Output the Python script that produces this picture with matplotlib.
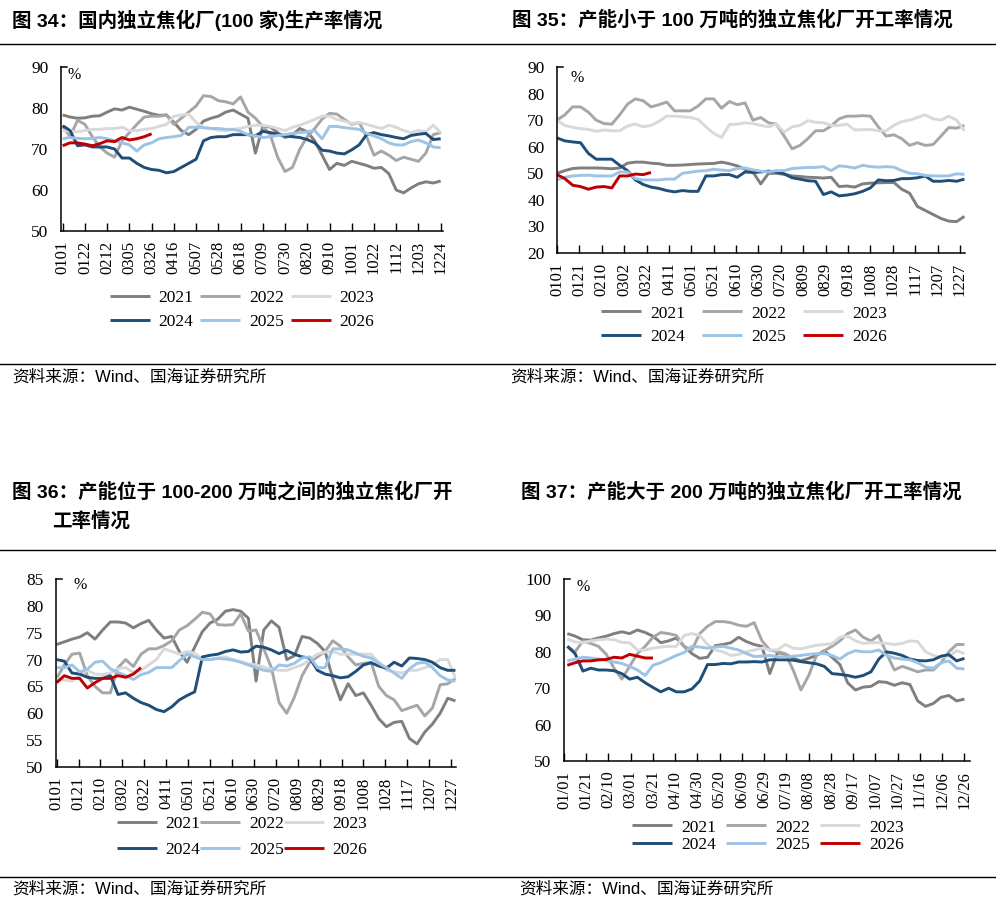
import numpy as np
import matplotlib
matplotlib.use('Agg')
import matplotlib.pyplot as plt
from matplotlib.lines import Line2D

#-------------------------------------------------------------------------------
# data (weekly readings, % )
#-------------------------------------------------------------------------------
years = ['2021', '2022', '2023', '2024', '2025', '2026']
colors = ['#7f7f7f', '#a6a6a6', '#d9d9d9', '#1f4e79', '#9dc3e6', '#c00000']

# fig 34 - all 100 plants
p1_2021 = [78.3,77.8,77.5,77.6,78.0,78.1,79.0,79.8,79.5,80.2,79.7,79.2,78.6,78.2,78.3,76.5,74.5,73.5,74.8,76.8,
           77.5,78.0,79.0,79.5,78.5,77.5,69.0,75.5,75.4,74.0,72.8,73.5,75.0,74.2,72.0,68.5,65.0,66.5,66.0,67.0,
           66.5,66.0,65.3,65.5,64.0,60.0,59.3,60.5,61.5,62.0,61.7,62.2]
p1_2022 = [75.5,73.0,77.0,76.0,73.0,70.5,69.0,68.0,72.0,74.0,76.0,77.8,78.0,78.0,78.3,76.0,77.5,79.0,80.5,83.0,
           82.8,81.8,81.5,81.0,82.7,79.0,77.5,75.5,73.5,68.0,64.5,65.5,70.0,73.0,75.0,77.3,78.7,78.5,77.2,76.0,
           76.5,73.0,68.5,69.5,68.5,67.2,68.0,67.5,67.0,69.0,73.5,74.0]
p1_2023 = [74.5,74.3,74.2,74.5,74.8,74.8,75.0,75.0,75.3,74.5,74.5,74.8,75.0,75.5,76.0,78.0,78.3,78.5,76.5,75.3,
           75.0,74.6,74.5,74.8,75.0,75.5,75.8,75.8,75.5,75.0,74.5,75.3,75.8,76.5,77.2,78.0,78.0,77.2,76.8,76.2,
           76.5,76.0,75.5,75.0,75.8,75.3,74.5,74.0,74.5,74.2,75.8,74.0]
p1_2024 = [75.7,74.5,70.8,71.0,70.5,70.5,70.5,70.0,67.8,67.8,66.5,65.5,65.0,64.8,64.2,64.5,65.5,66.5,67.5,72.0,
           72.8,73.0,73.0,73.5,73.5,73.5,73.2,74.3,74.0,73.6,73.2,73.0,72.8,72.3,71.5,69.7,69.5,69.0,68.8,69.8,
           71.0,73.5,74.0,73.5,73.2,72.8,72.5,73.3,73.6,73.8,72.3,72.5]
p1_2025 = [72.5,72.8,72.6,72.5,72.6,72.8,72.5,72.0,71.5,71.0,69.5,71.0,71.5,72.5,72.8,73.0,73.3,75.3,75.3,75.2,
           75.0,75.0,74.8,74.8,74.3,73.5,73.2,72.8,73.0,73.3,73.5,73.8,74.0,74.2,74.5,72.5,75.5,75.5,75.2,75.0,
           74.8,73.8,73.2,72.5,71.5,71.0,71.0,71.8,72.2,71.5,70.5,70.3]
p1_2026 = [70.8,71.5,71.5,71.2,70.8,71.3,72.0,71.8,72.8,72.2,72.5,73.0,73.7]

# fig 35 - capacity < 100 wt
p2_2021 = [50.0,51.0,51.8,52.0,52.0,52.0,51.9,51.7,52.0,53.8,54.2,54.2,53.8,53.6,53.0,53.0,53.1,53.3,53.5,53.6,
           53.7,54.2,53.6,52.8,51.5,50.5,46.0,50.0,50.0,49.6,49.0,48.8,48.5,48.4,48.2,48.5,45.0,45.2,44.8,46.0,
           46.3,46.4,46.5,46.5,44.0,42.5,37.5,36.0,34.5,33.0,32.0,31.8,33.8]
p2_2022 = [70.0,72.0,75.0,75.0,73.0,70.0,68.7,68.5,72.0,76.0,78.0,77.3,75.0,75.8,76.8,73.5,73.5,73.5,75.3,78.0,
           78.0,74.5,77.0,75.8,76.5,70.0,71.0,69.0,68.5,64.0,59.2,60.5,63.0,66.0,66.0,67.8,70.5,71.5,71.5,71.7,
           71.5,67.5,64.0,64.5,63.0,60.5,61.5,60.5,60.8,64.0,67.2,67.0,68.0]
p2_2023 = [70.0,68.0,67.3,66.8,66.5,65.8,66.3,66.0,66.0,67.8,68.5,67.5,68.0,69.5,71.5,71.5,71.3,71.0,70.3,67.5,
           65.0,63.5,68.3,68.5,69.0,68.7,68.0,67.5,68.5,65.5,67.5,68.0,69.8,69.2,69.0,68.0,68.0,68.5,66.3,66.4,
           66.5,66.0,66.0,68.0,69.5,70.0,71.0,72.0,70.5,70.0,71.5,70.0,66.0]
p2_2024 = [63.3,62.2,61.8,61.5,57.5,55.3,55.3,55.3,53.0,51.0,47.5,45.8,44.8,44.3,43.5,43.0,43.5,43.2,43.2,49.0,
           49.0,49.5,49.5,48.5,50.5,50.3,50.5,50.8,50.5,49.8,48.3,47.8,47.2,47.0,42.0,43.0,41.5,41.8,42.3,43.2,
           44.5,47.5,47.2,47.3,48.0,48.0,48.3,49.0,47.0,47.0,47.3,47.0,47.8]
p2_2025 = [47.5,48.5,49.0,49.2,49.3,49.0,49.0,49.0,50.5,50.5,48.0,47.5,47.5,47.5,47.8,47.8,50.0,50.4,50.8,51.0,
           51.5,51.2,51.0,51.8,52.0,51.3,50.8,50.5,51.0,51.0,51.8,52.0,52.2,52.2,52.5,51.0,52.8,52.5,52.0,53.0,
           52.5,52.3,52.5,52.3,51.0,50.0,49.8,49.2,49.0,49.0,49.0,49.8,49.6]
p2_2026 = [49.5,48.0,45.5,45.0,44.0,44.8,45.0,44.5,49.0,49.0,49.7,49.5,50.3]

# fig 36 - capacity 100-200 wt
p3_2021 = [72.8,73.3,73.8,74.2,75.0,73.8,75.5,77.0,77.0,76.8,75.9,76.7,77.3,75.5,74.0,74.3,71.5,69.5,72.3,75.2,
           76.8,77.5,79.0,79.3,79.0,77.7,66.0,75.5,77.2,76.0,70.0,70.7,74.3,74.0,73.0,71.5,66.5,62.5,65.5,63.3,
           63.8,61.5,59.0,57.5,58.3,58.5,55.3,54.3,56.5,58.0,60.0,62.8,62.3]
p3_2022 = [66.5,69.0,71.0,71.2,67.0,65.0,63.8,63.8,68.5,70.0,68.7,71.0,72.0,72.0,72.6,73.5,75.5,76.3,77.5,78.8,
           78.5,76.5,76.4,76.5,78.5,75.3,75.5,72.0,68.5,62.0,60.0,63.0,67.0,69.5,70.5,71.5,73.5,72.5,70.5,69.0,
           69.3,69.5,65.0,63.3,62.5,60.5,61.0,61.5,59.5,61.0,65.3,65.5,66.5]
p3_2023 = [66.5,66.2,66.0,67.0,68.0,67.3,67.2,67.5,68.3,68.5,67.6,68.0,69.0,70.0,72.0,71.5,71.0,71.5,71.2,70.0,
           70.0,70.3,70.5,70.0,69.6,69.2,69.0,68.6,68.2,68.0,68.0,68.5,69.0,70.0,71.0,71.4,71.5,71.0,71.0,71.0,
           71.0,71.0,69.5,68.0,67.7,67.5,68.0,68.0,68.5,69.0,70.0,70.0,66.5]
p3_2024 = [70.0,69.7,67.5,67.3,66.7,66.5,66.5,67.0,63.5,63.8,62.8,62.0,61.5,60.7,60.3,61.2,62.5,63.3,64.0,70.5,
           70.8,71.0,71.5,71.8,71.4,71.5,72.5,72.3,71.8,71.1,71.7,71.0,70.5,70.3,68.0,67.3,67.0,66.6,66.8,67.8,
           69.0,69.4,68.8,68.4,69.5,68.8,70.3,70.2,70.0,69.5,68.5,68.0,68.0]
p3_2025 = [68.5,68.5,69.0,67.7,68.2,69.5,69.7,68.3,67.6,67.0,66.3,67.2,67.6,68.5,68.5,68.5,69.8,71.0,70.5,70.0,
           70.0,70.2,70.1,69.9,69.5,69.0,68.5,68.0,67.8,69.0,68.8,69.3,70.3,70.5,68.5,68.5,72.0,72.0,71.8,71.2,
           70.6,70.3,69.3,68.5,67.5,66.5,68.3,69.3,69.5,68.5,67.0,66.2,66.0]
p3_2026 = [65.7,67.0,66.5,66.5,64.7,65.7,66.5,66.5,67.0,66.7,67.3,68.5]

# fig 37 - capacity > 200 wt
p4_2021 = [85.0,84.3,83.3,83.2,83.8,84.3,85.0,85.5,85.0,86.0,85.3,84.3,82.5,83.0,83.8,81.5,79.5,78.2,78.5,81.7,
           82.0,82.5,84.0,82.8,82.0,81.5,74.0,79.8,79.3,78.3,77.5,78.2,79.0,80.3,78.5,76.5,71.5,69.5,70.3,70.5,
           71.8,71.6,70.8,71.5,71.0,66.5,65.0,65.8,67.5,68.0,66.5,67.0]
p4_2022 = [81.5,80.0,83.0,82.3,81.5,79.3,75.5,72.5,76.0,79.5,81.5,84.0,85.3,85.0,84.5,81.5,80.5,85.0,87.0,88.3,
           88.3,88.0,87.3,87.0,88.0,83.0,80.5,80.0,79.5,75.0,69.5,73.5,79.0,80.3,81.5,83.0,85.0,86.0,84.0,83.0,
           84.5,79.5,75.0,76.0,75.3,74.5,75.0,75.0,77.0,80.0,82.0,82.0]
p4_2023 = [83.5,82.7,82.5,83.0,83.3,83.5,83.3,82.6,82.5,80.5,80.5,81.0,81.3,81.5,81.5,84.5,85.0,84.5,82.0,80.5,
           80.0,79.0,79.3,80.0,80.5,81.0,80.5,80.5,82.0,81.0,80.8,81.3,81.8,82.0,82.2,84.0,84.3,83.0,82.3,82.5,
           82.5,82.3,82.0,82.3,83.0,82.8,80.0,79.0,78.5,78.8,80.3,79.5]
p4_2024 = [81.5,79.5,74.7,75.5,75.0,75.0,74.8,74.0,72.5,73.0,71.5,70.2,69.0,70.0,69.0,69.0,69.8,72.0,76.5,76.5,
           76.8,76.7,77.2,77.2,77.3,77.2,77.8,77.8,77.8,77.7,77.3,77.0,76.7,76.0,74.0,73.8,73.5,73.0,73.5,74.5,
           78.0,80.0,79.6,79.0,78.0,77.6,77.5,77.8,78.8,79.2,77.5,78.2]
p4_2025 = [77.5,78.0,78.5,78.3,78.0,77.6,77.2,76.8,76.0,75.0,73.5,76.3,77.0,78.0,79.0,79.8,81.5,81.3,81.0,81.3,
           81.5,81.0,80.5,79.5,78.7,78.8,79.0,78.6,78.6,78.8,79.0,79.3,79.5,79.5,79.0,78.0,79.5,80.3,80.0,80.0,
           80.5,79.0,78.3,78.0,77.8,77.0,75.8,75.5,77.0,77.5,75.5,75.3]
p4_2026 = [76.3,77.0,77.5,77.5,77.8,77.9,78.5,78.3,79.3,78.8,78.3,78.3]

ticks_p1 = ['0101','0122','0212','0305','0326','0416','0507','0528','0618','0709','0730','0820',
            '0910','1001','1022','1112','1203','1224']
ticks_p2 = ['0101','0121','0210','0302','0322','0411','0501','0521','0610','0630','0720','0809',
            '0829','0918','1008','1028','1117','1207','1227']
ticks_p4 = ['01/01','01/21','02/10','03/01','03/21','04/10','04/30','05/20','06/09','06/29','07/19',
            '08/08','08/28','09/17','10/07','10/27','11/16','12/06','12/26']

#-------------------------------------------------------------------------------
# figure
#-------------------------------------------------------------------------------
W, H = 996, 906
fig = plt.figure(figsize=(W / 100, H / 100), dpi=100)

serif = 'Liberation Serif'
cjk = ['Liberation Sans', 'Noto Sans CJK SC', 'DejaVu Sans']


def add_ax(l, t, r, b):
    return fig.add_axes([l / W, 1 - b / H, (r - l) / W, (b - t) / H])


def draw(ax, series, start, step, labels, ylim, ystep, xlim, pct_pos):
    lines = []
    for v, c in zip(series, colors):
        d = start + 7 * np.arange(len(v))
        ln, = ax.plot(d, v, color=c, lw=2.1, solid_joinstyle='round', solid_capstyle='butt')
        lines.append(ln)
    ax.set_xlim(xlim)
    ax.set_ylim(ylim)
    ax.set_yticks(np.arange(ylim[0], ylim[1] + 0.1, ystep))
    ax.set_xticks(np.arange(len(labels)) * step)
    ax.set_xticklabels(labels, rotation=90)
    for s in ['top', 'right']:
        ax.spines[s].set_visible(False)
    for s in ['left', 'bottom']:
        ax.spines[s].set_linewidth(1.1)
    ax.tick_params(axis='x', direction='in', length=6, width=1, pad=7)
    ax.tick_params(axis='y', length=0, pad=9)
    for lab in ax.get_xticklabels():
        lab.set_fontfamily(serif)
        lab.set_fontsize(12)
    for lab in ax.get_yticklabels():
        lab.set_fontfamily(serif)
        lab.set_fontsize(12.5)
    ax.plot([0, 0.015], [1, 1], transform=ax.transAxes, color='black', lw=1.1, clip_on=False)
    ax.text(pct_pos[0], pct_pos[1], '%', transform=ax.transAxes, fontfamily=serif,
            fontsize=11.5, ha='left', va='center')
    return lines


def legend(lines, cx, cy, colsp, rowsp):
    order = [0, 3, 1, 4, 2, 5]
    fig.legend([lines[i] for i in order], [years[i] for i in order], ncol=3, loc='center',
               bbox_to_anchor=(cx / W, 1 - cy / H), frameon=False,
               prop={'family': serif, 'size': 12.5}, handlelength=2.3, handletextpad=0.5,
               columnspacing=colsp, labelspacing=rowsp, borderpad=0)


ax1 = add_ax(61, 67, 443, 231)
l1 = draw(ax1, [p1_2021, p1_2022, p1_2023, p1_2024, p1_2025, p1_2026], 0, 21, ticks_p1,
          (50, 90), 10, (-1.6, 359.2), (0.018, 0.95))
legend(l1, 242, 310, 0.4, 0.45)

ax2 = add_ax(557, 67, 965, 253)
l2 = draw(ax2, [p2_2021, p2_2022, p2_2023, p2_2024, p2_2025, p2_2026], 0, 20, ticks_p2,
          (20, 90), 10, (0, 364.5), (0.034, 0.94))
legend(l2, 744, 325, 1.0, 0.4)

ax3 = add_ax(56, 579, 456, 767)
l3 = draw(ax3, [p3_2021, p3_2022, p3_2023, p3_2024, p3_2025, p3_2026], 0, 20, ticks_p2,
          (50, 85), 5, (-0.6, 364.5), (0.045, 0.97))
legend(l3, 242, 837, 0.0, 0.55)

ax4 = add_ax(564, 579, 970, 761)
l4 = draw(ax4, [p4_2021, p4_2022, p4_2023, p4_2024, p4_2025, p4_2026], 3, 20, ticks_p4,
          (50, 100), 10, (0, 365), (0.032, 0.955))
legend(l4, 768, 836, 0.6, 0.05)

# titles
tkw = dict(family=cjk, weight='bold', fontsize=14, va='center', ha='left')
fig.text(12 / W, 1 - 20 / H, '图 34：国内独立焦化厂(100 家)生产率情况', **tkw)
fig.text(512 / W, 1 - 20 / H, '图 35：产能小于 100 万吨的独立焦化厂开工率情况', **tkw)
fig.text(12 / W, 1 - 492 / H, '图 36：产能位于 100-200 万吨之间的独立焦化厂开', **tkw)
fig.text(52 / W, 1 - 521 / H, '工率情况', **tkw)
fig.text(521 / W, 1 - 492 / H, '图 37：产能大于 200 万吨的独立焦化厂开工率情况', **tkw)

# source notes
skw = dict(family=cjk, fontsize=12, va='center', ha='left')
src = '资料来源：Wind、国海证券研究所'
fig.text(12 / W, 1 - 377 / H, src, **skw)
fig.text(510 / W, 1 - 377 / H, src, **skw)
fig.text(12 / W, 1 - 889 / H, src, **skw)
fig.text(519 / W, 1 - 889 / H, src, **skw)

# separator rules
for y in [44, 364, 550, 877]:
    fig.add_artist(Line2D([0, 1], [1 - y / H, 1 - y / H], transform=fig.transFigure,
                          color='black', lw=1.0))

fig.savefig('out.png', dpi=100)
